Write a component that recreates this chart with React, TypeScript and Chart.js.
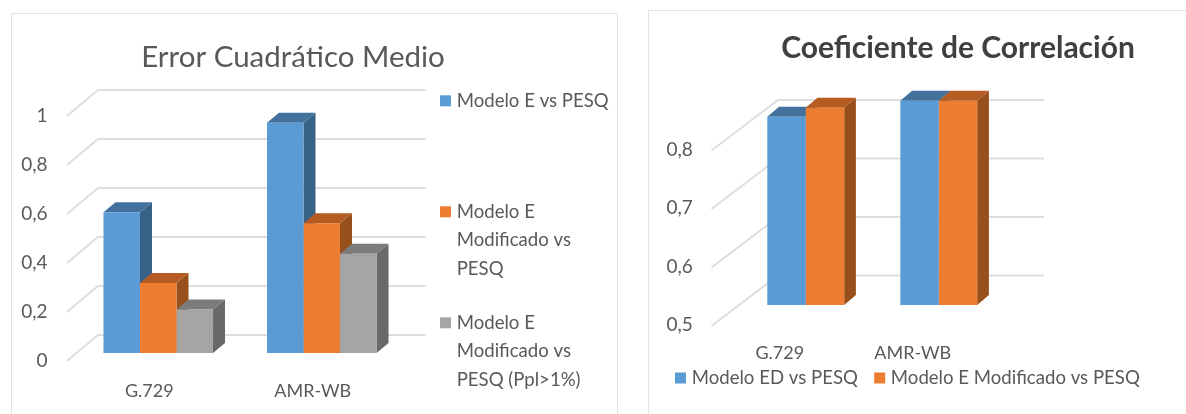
import React, { useEffect, useRef } from "react";
import { Chart, registerables } from "chart.js";

Chart.register(...registerables);

const categories = ["G.729", "AMR-WB"];

const errorLegendLines = [
  ["Modelo E vs PESQ", "", ""],
  ["Modelo E", "Modificado vs", "PESQ"],
  ["Modelo E", "Modificado vs", "PESQ (Ppl>1%)"],
];
const errorModeloE = [0.575, 0.94];
const errorModificado = [0.286, 0.53];
const errorPpl = [0.178, 0.405];

const corrNames = ["Modelo ED vs PESQ", "Modelo E Modificado vs PESQ"];
const corrModeloED = [0.822, 0.849];
const corrModificado = [0.837, 0.849];

const BLUE = ["#5B9BD5", "#41719C", "#376389"];
const ORANGE = ["#ED7D31", "#B65B22", "#974F1B"];
const GREY = ["#A5A5A5", "#7C7C7C", "#696969"];
const TEXT = "#595959";
const FONT = "Lato";

const fmt = (v: any) => String(+Number(v).toFixed(1)).replace(".", ",");

function depthPlugin(cfg: any) {
  return {
    id: "depth",
    beforeDatasetsDraw(chart: any) {
      const { ctx } = chart;
      const s = chart.scales.y;
      const bottom = chart.chartArea.bottom;
      ctx.save();
      ctx.strokeStyle = "#DEDEDE";
      ctx.lineWidth = 2;
      s.ticks.forEach((t: any) => {
        const y = s.getPixelForValue(t.value);
        ctx.beginPath();
        ctx.moveTo(cfg.frontX, y + cfg.frontDy);
        ctx.lineTo(cfg.backX, y + cfg.backDy);
        ctx.lineTo(cfg.endX, y + cfg.backDy);
        ctx.stroke();
      });
      chart.data.datasets.forEach((_: any, i: number) => {
        const shades = cfg.shades[i];
        chart.getDatasetMeta(i).data.forEach((b: any) => {
          const r = b.x + b.width / 2;
          const l = b.x - b.width / 2;
          const base = Math.min(b.base, bottom);
          ctx.fillStyle = shades[2];
          ctx.beginPath();
          ctx.moveTo(r, b.y);
          ctx.lineTo(r + cfg.dx, b.y - cfg.dy);
          ctx.lineTo(r + cfg.dx, base - cfg.dy);
          ctx.lineTo(r, base);
          ctx.closePath();
          ctx.fill();
          ctx.fillStyle = shades[1];
          ctx.beginPath();
          ctx.moveTo(l, b.y);
          ctx.lineTo(l + cfg.dx, b.y - cfg.dy);
          ctx.lineTo(r + cfg.dx, b.y - cfg.dy);
          ctx.lineTo(r, b.y);
          ctx.closePath();
          ctx.fill();
        });
      });
      ctx.restore();
    },
    afterLayout(chart: any) {
      const lg = chart.legend;
      lg.left = cfg.legendLeft;
      lg.top = cfg.legendTop;
      lg.right = 5000;
      lg.bottom = 5000;
      chart.titleBlock.left = 0;
      chart.titleBlock.right = cfg.titleCenter * 2;
    },
  };
}

function baseOptions(o: any) {
  return {
    responsive: false,
    animation: false,
    layout: { autoPadding: false, padding: { left: 0, right: o.padRight, top: 0, bottom: 0 } },
    plugins: {
      title: {
        display: true,
        text: o.title,
        color: o.titleColor,
        font: { family: FONT, size: o.titleSize, weight: o.titleWeight, lineHeight: 1.2 },
        padding: { top: o.titleCy - o.titleSize * 0.6, bottom: o.plotTop - o.titleCy - o.titleSize * 0.6 },
      },
      legend: {
        display: true,
        position: o.legendPos,
        align: "start",
        maxWidth: 1,
        maxHeight: 1,
        labels: {
          color: TEXT,
          boxWidth: 3.8,
          boxHeight: 3.8,
          padding: o.legendPad,
          font: { family: FONT, size: o.legendSize, lineHeight: o.legendLh },
          generateLabels: (c: any) =>
            Chart.defaults.plugins.legend.labels.generateLabels(c).map((it: any) => ({
              ...it,
              lineWidth: 7.2,
              strokeStyle: it.fillStyle,
              text: o.legendLines[it.datasetIndex],
            })),
        },
      },
      tooltip: { enabled: false },
    },
    scales: {
      x: {
        grid: { display: false },
        border: { display: false },
        afterFit: (s: any) => {
          s.height = o.xHeight;
        },
        ticks: {
          color: TEXT,
          font: { family: FONT, size: 18 },
          padding: o.xPad,
          labelOffset: o.xOffset,
          maxRotation: 0,
          minRotation: 0,
        },
      },
      y: {
        min: o.min,
        max: o.max,
        grid: { display: false },
        border: { display: false },
        afterFit: (s: any) => {
          s.width = o.yWidth;
        },
        ticks: {
          color: TEXT,
          font: { family: FONT, size: 19 },
          stepSize: o.step,
          includeBounds: false,
          padding: o.yPad,
          labelOffset: o.yOffset,
          callback: fmt,
        },
      },
    },
  };
}

export default function App() {
  const a = useRef<HTMLCanvasElement>(null);
  const b = useRef<HTMLCanvasElement>(null);
  useEffect(() => {
    const c1 = new Chart(a.current as any, {
      type: "bar",
      data: {
        labels: categories,
        datasets: [
          { label: errorLegendLines[0][0], data: errorModeloE, backgroundColor: BLUE[0], categoryPercentage: 0.67, barPercentage: 1 },
          { label: errorLegendLines[1].join(" "), data: errorModificado, backgroundColor: ORANGE[0], categoryPercentage: 0.67, barPercentage: 1 },
          { label: errorLegendLines[2].join(" "), data: errorPpl, backgroundColor: GREY[0], categoryPercentage: 0.67, barPercentage: 1 },
        ],
      },
      options: baseOptions({
        padRight: 235.5, title: "Error Cuadrático Medio", titleColor: TEXT, titleSize: 29.5, titleWeight: "normal",
        titleCy: 57, plotTop: 108, legendPos: "right", legendPad: 25.5, legendSize: 18.6, legendLh: 28.5 / 18.6, legendLines: errorLegendLines,
        xHeight: 61, xPad: 19, xOffset: -9, min: 0, max: 1, yWidth: 76.5, step: 0.2, yPad: 21, yOffset: 8,
      }) as any,
      plugins: [depthPlugin({
        frontX: 67, frontDy: 8, backX: 98, backDy: -18, endX: 425.6, dx: 12, dy: 10,
        shades: [BLUE, ORANGE, GREY], legendLeft: 418.1, legendTop: 66, titleCenter: 293,
      })] as any,
    });
    const c2 = new Chart(b.current as any, {
      type: "bar",
      data: {
        labels: categories,
        datasets: [
          { label: corrNames[0], data: corrModeloED, backgroundColor: BLUE[0], categoryPercentage: 0.578, barPercentage: 1 },
          { label: corrNames[1], data: corrModificado, backgroundColor: ORANGE[0], categoryPercentage: 0.578, barPercentage: 1 },
        ],
      },
      options: baseOptions({
        padRight: 180.75, title: "Coeficiente de Correlación", titleColor: "#404040", titleSize: 30, titleWeight: "bold",
        titleCy: 48, plotTop: 100.25, legendPos: "bottom", legendPad: 19.9, legendSize: 18.6, legendLh: 1.2, legendLines: corrNames,
        xHeight: 108, xPad: 29, xOffset: -26, min: 0.5, max: 0.85, yWidth: 91.25, step: 0.1, yPad: 38.5, yOffset: 20,
      }) as any,
      plugins: [depthPlugin({
        frontX: 63.5, frontDy: 21, backX: 130, backDy: -29.5, endX: 396, dx: 11.7, dy: 10,
        shades: [BLUE, ORANGE], legendLeft: 10.7, legendTop: 348.8, titleCenter: 310,
      })] as any,
    });
    return () => {
      c1.destroy();
      c2.destroy();
    };
  }, []);
  const panel = (left: number, top: number, width: number): React.CSSProperties => ({
    position: "absolute",
    left,
    top,
    width,
    height: 500,
    border: "1.5px solid #E2E2E2",
    boxSizing: "border-box",
  });
  return (
    <div style={{ position: "fixed", left: 0, top: 0, width: 1186, height: 414, overflow: "hidden", background: "#fff" }}>
      <div style={panel(11, 13, 607)} />
      <div style={panel(648, 10, 600)} />
      <canvas ref={a} width={640} height={414} style={{ position: "absolute", left: 0, top: 0, filter: "blur(0.4px)" }} />
      <canvas ref={b} width={538} height={414} style={{ position: "absolute", left: 648, top: 0, filter: "blur(0.4px)" }} />
    </div>
  );
}
